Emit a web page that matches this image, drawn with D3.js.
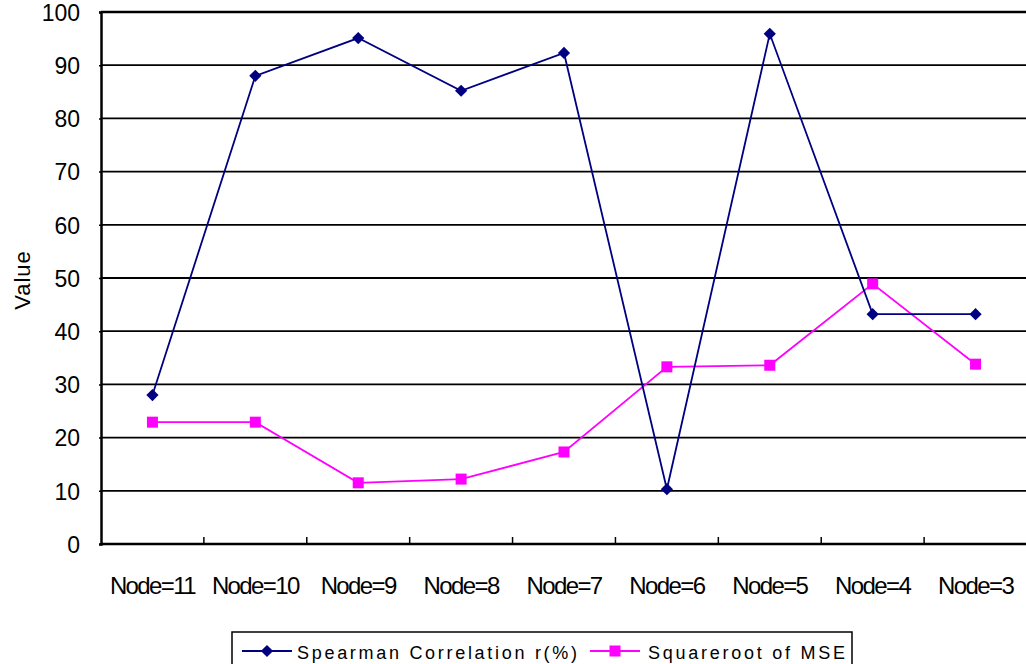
<!DOCTYPE html>
<html>
<head>
<meta charset="utf-8">
<script src="https://cdn.jsdelivr.net/npm/d3@7"></script>
<style>
  html, body { margin: 0; padding: 0; background: #fff; }
  svg { display: block; font-family: "Liberation Sans", Arial, sans-serif; }
</style>
</head>
<body>
<svg id="chart" width="1026" height="664"></svg>
<script>
// Categories along the x axis
const categories = ["Node=11", "Node=10", "Node=9", "Node=8", "Node=7", "Node=6", "Node=5", "Node=4", "Node=3"];
// Series values
const spearman = [28.0, 88.0, 95.1, 85.2, 92.3, 10.3, 95.9, 43.2, 43.2];
const sqrtMse = [22.9, 22.9, 11.5, 12.2, 17.3, 33.3, 33.6, 48.9, 33.8];
// Y tick values
const yTicks = [0, 10, 20, 30, 40, 50, 60, 70, 80, 90, 100];
const seriesNames = ["Spearman Correlation r(%)", "Squareroot of MSE"];

const svg = d3.select("#chart");
const plotL = 101, plotR = 1027, plotT = 12, plotB = 544;

const x = d3.scaleBand().domain(categories).range([plotL, plotR]).paddingInner(0).paddingOuter(0);
const y = d3.scaleLinear().domain([0, 100]).range([plotB, plotT]);

// Horizontal gridlines
svg.append("g")
  .selectAll("line")
  .data(yTicks.filter(d => d > 0))
  .join("line")
  .attr("x1", plotL).attr("x2", plotR)
  .attr("y1", d => y(d)).attr("y2", d => y(d))
  .attr("stroke", "#000").attr("stroke-width", d => d === 100 ? 2.5 : 1.8);

// Y axis
const yAxis = svg.append("g")
  .attr("transform", `translate(${plotL},0)`)
  .call(d3.axisLeft(y).tickValues(yTicks).tickSize(2).tickPadding(19).tickFormat(d3.format("d")));
yAxis.select(".domain").attr("stroke", "#000").attr("stroke-width", 2.5);
yAxis.selectAll(".tick line").attr("stroke", "#000").attr("stroke-width", 1.5);
yAxis.selectAll("text").attr("font-size", 23).attr("fill", "#000").attr("dy", "0.36em")
  .attr("font-family", "'Liberation Sans', Arial, sans-serif");

// X axis: boundary ticks between categories pointing into the plot
const boundaries = categories.slice(1).map(c => x(c));
svg.append("g").selectAll("line")
  .data(boundaries)
  .join("line")
  .attr("x1", d => d).attr("x2", d => d)
  .attr("y1", plotB).attr("y2", plotB - 7)
  .attr("stroke", "#000").attr("stroke-width", 1.5);
svg.append("line")
  .attr("x1", plotL).attr("x2", plotR)
  .attr("y1", y(0)).attr("y2", y(0))
  .attr("stroke", "#000").attr("stroke-width", 2.5);

svg.append("g").selectAll("text")
  .data(categories)
  .join("text")
  .attr("x", d => x(d) + x.bandwidth() / 2)
  .attr("y", 594)
  .attr("text-anchor", "middle")
  .attr("font-size", 24)
  .attr("letter-spacing", -1.6)
  .attr("fill", "#000")
  .text(d => d);

// Y axis title
svg.append("text")
  .attr("transform", `translate(30,${(plotT + plotB) / 2 + 2}) rotate(-90)`)
  .attr("text-anchor", "middle")
  .attr("font-size", 22)
  .attr("letter-spacing", 1)
  .attr("fill", "#000")
  .text("Value");

const cx = d => x(d) + x.bandwidth() / 2;

// Series lines
const line = d3.line().x(d => cx(d.c)).y(d => y(d.v));
const sData = categories.map((c, i) => ({ c, v: spearman[i] }));
const mData = categories.map((c, i) => ({ c, v: sqrtMse[i] }));

svg.append("path").datum(mData)
  .attr("d", line).attr("fill", "none")
  .attr("stroke", "#ff00ff").attr("stroke-width", 1.8);
svg.append("path").datum(sData)
  .attr("d", line).attr("fill", "none")
  .attr("stroke", "#000080").attr("stroke-width", 1.8);

// Markers: squares for sqrt(MSE), diamonds for Spearman
const diamond = d3.symbol().type(d3.symbolDiamond2).size(95);
svg.append("g").selectAll("rect")
  .data(mData)
  .join("rect")
  .attr("x", d => cx(d.c) - 5.5).attr("y", d => y(d.v) - 5.5)
  .attr("width", 11).attr("height", 11)
  .attr("fill", "#ff00ff");
svg.append("g").selectAll("path")
  .data(sData)
  .join("path")
  .attr("transform", d => `translate(${cx(d.c)},${y(d.v)})`)
  .attr("d", diamond)
  .attr("fill", "#000080");

// Legend
const lg = svg.append("g");
lg.append("rect")
  .attr("x", 232).attr("y", 632).attr("width", 620).attr("height", 40)
  .attr("fill", "#fff").attr("stroke", "#000").attr("stroke-width", 1.5);
lg.append("line").attr("x1", 242).attr("x2", 292).attr("y1", 651).attr("y2", 651)
  .attr("stroke", "#000080").attr("stroke-width", 1.8);
lg.append("path").attr("transform", "translate(267,651)").attr("d", diamond).attr("fill", "#000080");
lg.append("text").attr("x", 297).attr("y", 659).attr("font-size", 18)
  .attr("textLength", 280).attr("lengthAdjust", "spacing")
  .attr("fill", "#000").text(seriesNames[0]);
lg.append("line").attr("x1", 590).attr("x2", 640).attr("y1", 651).attr("y2", 651)
  .attr("stroke", "#ff00ff").attr("stroke-width", 1.8);
lg.append("rect").attr("x", 609.5).attr("y", 645.5).attr("width", 11).attr("height", 11).attr("fill", "#ff00ff");
lg.append("text").attr("x", 648).attr("y", 659).attr("font-size", 18)
  .attr("textLength", 197).attr("lengthAdjust", "spacing")
  .attr("fill", "#000").text(seriesNames[1]);
</script>
</body>
</html>
